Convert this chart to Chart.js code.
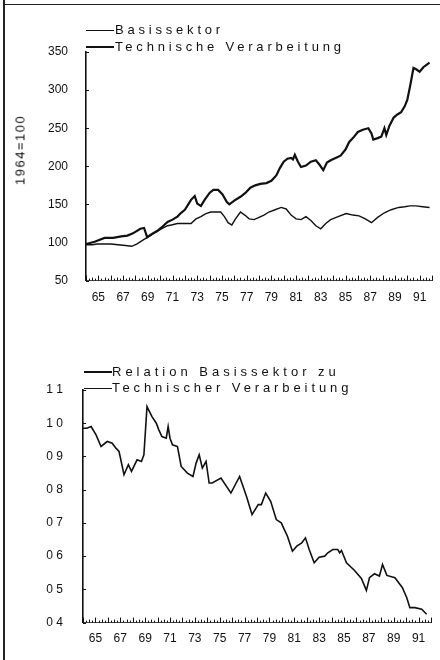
<!DOCTYPE html>
<html>
<head>
<meta charset="utf-8">
<script src="https://cdn.jsdelivr.net/npm/chart.js@4.4.0/dist/chart.umd.min.js"></script>
<style>
  body { margin: 0; background: #fff; width: 440px; height: 660px; overflow: hidden; position: relative; font-family: "Liberation Sans", Arial, sans-serif; color: #111; }
  .box { position: absolute; left: 0; width: 440px; }
  .box canvas { display: block; }
  #boxTop { top: 0; height: 305px; }
  #boxBot { top: 300px; height: 360px; }
  .leg { position: absolute; font-size: 13px; letter-spacing: 3.8px; line-height: 14px; white-space: nowrap; }
  .smp { position: absolute; background: #111; }
  .frame { position: absolute; background: #222; }
  #ytitle { position: absolute; left: 20px; top: 150px; font-size: 13px; letter-spacing: 1.5px; white-space: nowrap; transform: translate(-50%, -50%) rotate(-90deg); }
</style>
</head>
<body>
<div class="frame" style="left:3px;top:0;width:2px;height:660px"></div>
<div class="frame" style="left:3px;top:4px;width:437px;height:1px"></div>

<div class="box" id="boxTop"><canvas id="chartTop" width="440" height="305"></canvas></div>
<div class="box" id="boxBot"><canvas id="chartBot" width="440" height="360"></canvas></div>

<!-- Legenden -->
<div class="smp" style="left:86px;top:30px;width:28px;height:1px"></div>
<div class="leg" style="left:115px;top:23px">Basissektor</div>
<div class="smp" style="left:86px;top:46px;width:28px;height:2px"></div>
<div class="leg" style="left:115px;top:40px">Technische Verarbeitung</div>

<div class="smp" style="left:84px;top:371px;width:28px;height:2px"></div>
<div class="leg" style="left:112px;top:365px;letter-spacing:4px">Relation Basissektor zu</div>
<div class="smp" style="left:84px;top:388px;width:28px;height:1px"></div>
<div class="leg" style="left:112px;top:381px;letter-spacing:3.9px">Technischer Verarbeitung</div>

<div id="ytitle">1964=100</div>

<script>
// Technische Verarbeitung (1964=100)
const techYears = [1964.0, 1964.7, 1965.5, 1966.2, 1966.85, 1967.35, 1967.8, 1968.4, 1968.7, 1968.95,
  1969.4, 1969.75, 1970.2, 1970.6, 1971.0, 1971.4, 1971.7, 1972.0, 1972.2, 1972.5,
  1972.8, 1973.0, 1973.3, 1973.6, 1974.0, 1974.3, 1974.7, 1975.05, 1975.4, 1975.6,
  1976.0, 1976.5, 1976.9, 1977.3, 1977.7, 1978.1, 1978.6, 1979.0, 1979.4, 1979.7,
  1980.0, 1980.3, 1980.6, 1980.75, 1980.9, 1981.15, 1981.4, 1981.8, 1982.2, 1982.6,
  1982.9, 1983.2, 1983.5, 1983.8, 1984.2, 1984.6, 1985.0, 1985.3, 1985.6, 1986.0,
  1986.4, 1986.85, 1987.1, 1987.25, 1987.6, 1987.9, 1988.15, 1988.3, 1988.55, 1988.9,
  1989.2, 1989.5, 1989.8, 1990.0, 1990.25, 1990.5, 1990.75, 1991.0, 1991.3, 1991.8];
const techValues = [98, 101, 106, 106, 108, 109, 112, 118, 119, 107,
  112, 115, 121, 127, 130, 134, 139, 143, 148, 156,
  161, 151, 148, 156, 165, 169, 169, 163, 153, 150,
  155, 160, 165, 172, 175, 177, 178, 181, 188, 198,
  206, 210, 211, 209, 215, 206, 199, 201, 206, 208,
  202, 195, 205, 208, 211, 214, 222, 232, 237, 245,
  248, 250, 243, 235, 237, 239, 250, 241, 253, 264,
  268, 271, 279, 287, 307, 329, 327, 324, 330, 336];

// Basissektor (1964=100)
const basisYears = [1964.0, 1964.5, 1964.9, 1965.5, 1966.0, 1966.6, 1967.2, 1967.7, 1968.1, 1968.7,
  1969.2, 1969.7, 1970.1, 1970.6, 1970.9, 1971.4, 1972.0, 1972.5, 1972.9, 1973.3,
  1973.7, 1974.1, 1974.5, 1974.9, 1975.2, 1975.5, 1975.8, 1976.1, 1976.5, 1976.85,
  1977.2, 1977.6, 1978.0, 1978.4, 1978.8, 1979.3, 1979.8, 1980.2, 1980.6, 1981.0,
  1981.4, 1981.8, 1982.2, 1982.6, 1983.0, 1983.4, 1983.8, 1984.4, 1985.05, 1985.6,
  1986.1, 1986.6, 1987.1, 1987.6, 1988.15, 1988.7, 1989.3, 1989.8, 1990.2, 1990.7,
  1991.25, 1991.8];
const basisValues = [97, 97, 98, 98, 98, 97, 96, 95, 98, 104,
  109, 114, 118, 122, 123, 125, 125, 125, 131, 134,
  138, 140, 140, 140, 134, 126, 123, 131, 140, 136,
  131, 130, 133, 136, 140, 143, 146, 144, 136, 131,
  130, 134, 129, 122, 118, 125, 130, 134, 138, 136,
  135, 131, 126, 133, 139, 143, 146, 147, 148, 148,
  147, 146];

// Relation Basissektor zu Technischer Verarbeitung
const relYears = [1964.0, 1964.3, 1964.65, 1965.05, 1965.45, 1965.95, 1966.35, 1966.65, 1966.9, 1967.3,
  1967.65, 1967.9, 1968.35, 1968.7, 1968.9, 1969.15, 1969.55, 1969.9, 1970.1, 1970.35,
  1970.7, 1970.85, 1971.0, 1971.2, 1971.6, 1971.9, 1972.4, 1972.85, 1973.1, 1973.35,
  1973.6, 1973.9, 1974.15, 1974.4, 1975.1, 1975.9, 1976.6, 1977.15, 1977.6, 1978.1,
  1978.35, 1978.7, 1979.1, 1979.55, 1979.95, 1980.2, 1980.45, 1980.85, 1981.2, 1981.6,
  1981.9, 1982.2, 1982.6, 1983.0, 1983.45, 1983.7, 1984.1, 1984.5, 1984.65, 1984.8,
  1985.2, 1985.85, 1986.4, 1986.8, 1987.05, 1987.45, 1987.85, 1988.1, 1988.45, 1989.1,
  1989.7, 1990.05, 1990.3, 1990.7, 1991.25, 1991.65];
const relValues = [0.985, 0.985, 0.99, 0.965, 0.93, 0.945, 0.94, 0.925, 0.915, 0.845,
  0.875, 0.855, 0.89, 0.885, 0.905, 1.05, 1.02, 1.0, 0.98, 0.96,
  0.955, 0.99, 0.955, 0.935, 0.93, 0.87, 0.85, 0.84, 0.88, 0.905,
  0.865, 0.885, 0.82, 0.82, 0.835, 0.79, 0.84, 0.78, 0.725, 0.755,
  0.755, 0.79, 0.765, 0.71, 0.70, 0.68, 0.66, 0.615, 0.63, 0.64,
  0.655, 0.62, 0.58, 0.597, 0.6, 0.61, 0.62, 0.62, 0.61, 0.617,
  0.58, 0.557, 0.533, 0.497, 0.535, 0.547, 0.54, 0.575, 0.542, 0.535,
  0.505, 0.475, 0.445, 0.445, 0.44, 0.425];

// Achsen
const xTickYears = [1965, 1967, 1969, 1971, 1973, 1975, 1977, 1979, 1981, 1983, 1985, 1987, 1989, 1991];
const topTickValues = [50, 100, 150, 200, 250, 300, 350];
const topTickLabels = ['50', '100', '150', '200', '250', '300', '350'];
const botTickValues = [0.4, 0.5, 0.6, 0.7, 0.8, 0.9, 1.0, 1.1];
const botTickLabels = ['0 4', '0 5', '0 6', '0 7', '0 8', '0 9', '1 0', '1 1'];

function punkte(xs, ys) {
    return xs.map((x, i) => ({ x: x, y: ys[i] }));
}

const schrift = { family: '"Liberation Sans", Arial, sans-serif', size: 12 };
const schwarz = '#111';
const unsichtbar = 'rgba(0,0,0,0)';

// kleine Striche nach innen an den Achsen
const kleineStriche = {
    id: 'kleineStriche',
    afterDatasetsDraw(chart) {
        const ctx = chart.ctx;
        const x = chart.scales.x;
        const y = chart.scales.y;
        ctx.save();
        ctx.strokeStyle = schwarz;
        ctx.lineWidth = 1;
        ctx.beginPath();
        for (let q = 0; q <= 28 * 4; q++) {
            const px = Math.round(x.getPixelForValue(1964 + q / 4)) + 0.5;
            const h = q % 4 === 0 ? 5 : (q % 2 === 0 ? 3 : 2);
            ctx.moveTo(px, y.bottom);
            ctx.lineTo(px, y.bottom - h);
        }
        y.ticks.forEach(t => {
            const py = Math.round(y.getPixelForValue(t.value)) + 0.5;
            ctx.moveTo(x.left, py);
            ctx.lineTo(x.left + 3, py);
        });
        ctx.stroke();
        ctx.restore();
    }
};

function xAchse(abstand) {
    return {
        type: 'linear', min: 1964, max: 1992,
        grid: { display: true, drawOnChartArea: false, drawTicks: true, tickLength: abstand, color: unsichtbar },
        border: { display: true, color: '#444', width: 1 },
        afterBuildTicks: s => { s.ticks = xTickYears.map(v => ({ value: v })); },
        ticks: {
            padding: 0, font: schrift, color: schwarz, maxRotation: 0, autoSkip: false,
            callback: v => String(v).slice(2)
        }
    };
}

function yAchse(min, max, werte, texte, breite, abstand) {
    return {
        min: min, max: max,
        grid: { display: true, drawOnChartArea: false, drawTicks: true, tickLength: abstand, color: unsichtbar },
        border: { display: true, color: schwarz, width: 1.6 },
        afterBuildTicks: s => { s.ticks = werte.map(v => ({ value: v })); },
        afterFit: s => { s.width = breite; },
        ticks: { padding: 0, font: schrift, color: schwarz, callback: (v, i) => texte[i] }
    };
}

new Chart(document.getElementById('chartTop'), {
    type: 'line',
    data: {
        datasets: [{
            label: 'Basissektor',
            data: punkte(basisYears, basisValues),
            borderColor: schwarz, borderWidth: 1.4, pointRadius: 0, tension: 0
        }, {
            label: 'Technische Verarbeitung',
            data: punkte(techYears, techValues),
            borderColor: schwarz, borderWidth: 2.2, pointRadius: 0, tension: 0
        }]
    },
    options: {
        responsive: false, animation: false,
        layout: { padding: { top: 52, right: 8, left: 0, bottom: 0 } },
        plugins: { legend: { display: false }, tooltip: { enabled: false } },
        scales: {
            x: xAchse(10),
            y: yAchse(50, 350, topTickValues, topTickLabels, 86, 18)
        }
    },
    plugins: [kleineStriche]
});

new Chart(document.getElementById('chartBot'), {
    type: 'line',
    data: {
        datasets: [{
            label: 'Relation Basissektor zu Technischer Verarbeitung',
            data: punkte(relYears, relValues),
            borderColor: schwarz, borderWidth: 1.6, pointRadius: 0, tension: 0
        }]
    },
    options: {
        responsive: false, animation: false,
        layout: { padding: { top: 90, right: 9, left: 0, bottom: 14 } },
        plugins: { legend: { display: false }, tooltip: { enabled: false } },
        scales: {
            x: xAchse(9),
            y: yAchse(0.4, 1.1, botTickValues, botTickLabels, 83, 20)
        }
    },
    plugins: [kleineStriche]
});
</script>
</body>
</html>
